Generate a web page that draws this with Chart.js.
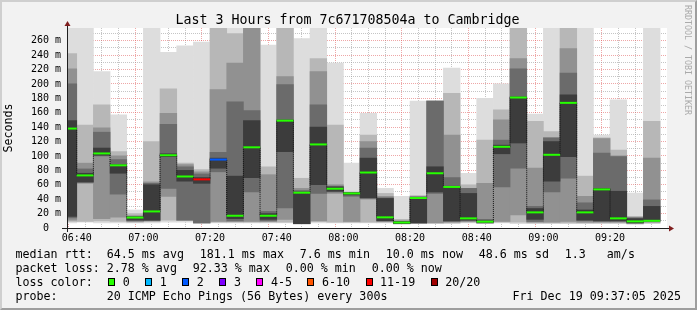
<!DOCTYPE html>
<html>
<head>
<meta charset="utf-8">
<script src="https://cdn.jsdelivr.net/npm/chart.js@4.4.1/dist/chart.umd.min.js"></script>
<style>
  html, body { margin: 0; padding: 0; background: #f2f2f2; }
  #wrap { position: relative; width: 697px; height: 310px; overflow: hidden; background: #f2f2f2;
    font-family: 'DejaVu Sans Mono', monospace; color: #000; }
  #frame { position: absolute; left: 0; top: 0; width: 697px; height: 310px; box-sizing: border-box;
    border-style: solid; border-width: 2px; border-color: #cfcfcf #9e9e9e #9e9e9e #cfcfcf; pointer-events: none; }
  #smoke { position: absolute; left: 0; top: 0; }
  .t { position: absolute; white-space: pre; font-size: 11.66px; line-height: 14px; }
  .row { position: absolute; left: 15.5px; display: flex; column-gap: 15.8px; white-space: pre;
    font-size: 11.66px; line-height: 14px; }
  #title { position: absolute; left: 0; top: 11.5px; width: 695px; text-align: center;
    font-size: 13.3px; line-height: 16px; white-space: pre; }
  #brand { position: absolute; left: 683px; top: 5px; writing-mode: vertical-rl; font-size: 8.3px;
    color: #aaaaaa; white-space: pre; }
  #losskey { position: absolute; left: 108.3px; top: 275px; display: flex; align-items: center;
    font-size: 11.66px; line-height: 14px; white-space: pre; }
  #losskey .box { width: 7px; height: 8px; box-sizing: border-box; border: 1px solid #000; margin-right: 7.5px; }
  #losskey .lab { margin-right: 15.5px; }
</style>
</head>
<body>
<div id="wrap">
  <canvas id="smoke" width="697" height="310"></canvas>
  <div id="title">Last 3 Hours from 7c671708504a to Cambridge</div>
  <div id="brand">RRDTOOL / TOBI OETIKER</div>

  <div class="row" style="top:247.3px">
    <span>median rtt:  64.5 ms avg</span><span>181.1 ms max</span><span>7.6 ms min</span><span>10.0 ms now</span><span>48.6 ms sd</span><span>1.3   am/s</span>
  </div>
  <div class="row" style="top:261.3px">
    <span>packet loss: 2.78 % avg</span><span>92.33 % max</span><span>0.00 % min</span><span>0.00 % now</span>
  </div>

  <div class="t" style="left:15.5px; top:275.3px">loss color:</div>
  <div id="losskey"></div>

  <div class="t" style="left:15.5px; top:289px">probe:       20 ICMP Echo Pings (56 Bytes) every 300s</div>
  <div class="t" style="left:512.5px; top:289px">Fri Dec 19 09:37:05 2025</div>

  <div id="frame"></div>
</div>
<script>
// 5 minute rrd steps, labelled by the end of each step
const slotEnd = [
  '06:40', '06:45', '06:50', '06:55', '07:00', '07:05', '07:10', '07:15', '07:20',
  '07:25', '07:30', '07:35', '07:40', '07:45', '07:50', '07:55', '08:00', '08:05',
  '08:10', '08:15', '08:20', '08:25', '08:30', '08:35', '08:40', '08:45', '08:50',
  '08:55', '09:00', '09:05', '09:10', '09:15', '09:20', '09:25', '09:30', '09:35'
];

// median rtt per step, ms
const median = [
  138, 73, 103.5, 87, 14.5, 23, 101, 71.5, 67.5, 95, 17, 112,
  17, 149, 49, 116, 54.5, 48, 77, 14.8, 7.6, 41.6, 76, 57,
  13.4, 8.8, 112.7, 181.1, 21.7, 101.6, 173.7, 21.7, 53.6, 13.4, 9.2, 10.0
];

// index into lossLabels for each step
const lossBucket = [
  0, 0, 0, 0, 0, 0, 0, 0, 6, 2, 0, 0,
  0, 0, 0, 0, 0, 0, 0, 0, 0, 0, 0, 0,
  0, 0, 0, 0, 0, 0, 0, 0, 0, 0, 0, 0
];

// smoke: ranges of the sorted 20 pings, ms (outer pair lightest)
const pings01_20 = [
  [7, 290], [8, 290], [7, 217], [7, 157], [7, 25], [7, 290], [8, 244], [8, 253], [7, 258],
  [7, 290], [7, 290], [7, 290], [7, 254], [7, 290], [5, 263], [7, 290], [7, 229], [7, 90],
  [7, 159], [7, 55], [5, 44], [6, 176], [6, 176], [6, 222], [7, 76], [6, 180], [7, 200],
  [6, 290], [6, 158], [6, 290], [6, 290], [6, 290], [6, 129], [6, 178], [5, 48.5], [6, 290]
];
const pings03_18 = [
  [9, 242], [9, 143], [10, 171], [9, 106], [8, 20], [9, 120], [11, 193], [11, 90], [7, 81],
  [8, 290], [8, 270], [8, 290], [8, 85], [8, 290], [6, 69], [9, 235], [8, 143], [8, 50],
  [8, 129], [8, 48], [6, 12], [7, 45], [7, 176], [7, 187], [8, 60], [7, 122], [8, 164],
  [8, 290], [7, 148], [7, 134], [7, 290], [7, 72], [7, 125], [7, 108], [6, 16], [7, 148]
];
const pings05_16 = [
  [11, 221], [62, 90], [13, 139], [15, 100], [9, 17], [10, 64], [44, 159], [11, 88], [7, 78],
  [9, 192], [9, 229], [9, 290], [9, 74], [12, 210], [6, 55], [10, 217], [48, 60], [9, 49],
  [40, 120], [9, 44], [6, 10], [7, 44], [7, 176], [8, 129], [9, 55], [7, 62], [9, 150],
  [18, 235], [8, 83], [8, 125], [9, 249], [8, 44], [8, 124], [8, 100], [7, 15], [8, 97]
];
const pings07_14 = [
  [14, 200], [63, 82], [100, 133], [47, 95], [10, 16], [10, 62], [55, 144], [11, 85], [7, 75],
  [78, 105], [10, 175], [50, 163], [10, 23], [28, 199], [6, 52], [48, 171], [50, 58], [44, 49],
  [41, 111], [10, 42], [6, 9], [7, 43], [48, 176], [9, 70], [10, 55], [7, 12], [57, 122],
  [83, 221], [9, 30], [50, 125], [69, 215], [10, 35], [9, 104], [9, 99], [7, 14], [9, 39]
];
const pings09_12 = [
  [16, 149], [64, 76], [101, 111], [76, 88], [11, 15.5], [11, 60], [99, 103], [65, 80], [62, 70],
  [83, 97], [13, 72], [70, 149], [12, 20], [106, 150], [6, 50], [60, 140], [51, 57], [46, 49],
  [42, 97], [10, 41], [6, 9], [7, 42], [50, 85], [10, 58], [11, 48], [8, 10], [103, 115],
  [118, 182], [12, 27], [65, 120], [99, 185], [11, 25], [10, 55], [10, 51], [7, 13], [10, 30]
];

const lossLabels = ['0', '1', '2', '3', '4-5', '6-10', '11-19', '20/20'];
const lossColors = ['#26ff00', '#00b8ff', '#0059ff', '#7e00ff', '#ff00ff', '#ff5500', '#ff0000', '#a00000'];

const timeLabels = ['06:40', '07:00', '07:20', '07:40', '08:00', '08:20', '08:40', '09:00', '09:20'];
const rttGrid = [0, 10, 20, 30, 40, 50, 60, 70, 80, 90, 100, 110, 120, 130, 140,
  150, 160, 170, 180, 190, 200, 210, 220, 230, 240, 250, 260, 270];

const FONT = 'DejaVu Sans Mono';
const MGRID = 'rgba(222, 79, 79, 0.5)';
const GRID = 'rgba(150, 150, 150, 0.55)';
const SHADES = ['#dddddd', '#b7b7b7', '#919191', '#6b6b6b', '#3c3c3c'];

function toMin(s) {
  const [h, m] = s.split(':').map(Number);
  return h * 60 + m;
}

// graph window: 06:37:05 .. 09:37:05
const xStart = toMin('06:37') + 5 / 60;
const xEnd = toMin('09:37') + 5 / 60;
const stepMid = slotEnd.map(s => toMin(s) - 2.5);

const key = document.getElementById('losskey');
lossLabels.forEach((lab, i) => {
  const box = document.createElement('span');
  box.className = 'box';
  box.style.background = lossColors[i];
  const txt = document.createElement('span');
  txt.className = 'lab';
  txt.textContent = lab;
  key.appendChild(box);
  key.appendChild(txt);
});

const smokeSets = [pings01_20, pings03_18, pings05_16, pings07_14, pings09_12].map((ranges, i) => ({
  type: 'bar',
  data: ranges.map((r, j) => ({ x: stepMid[j], y: r })),
  backgroundColor: SHADES[i],
  borderWidth: 0,
  barPercentage: 1,
  categoryPercentage: 1,
  grouped: false,
  order: 10 - i
}));

const medianSet = {
  type: 'line',
  data: median.map((v, j) => ({ x: stepMid[j], y: v })),
  stepped: 'middle',
  borderColor: '#111111',
  borderWidth: 1,
  borderDash: [1, 1],
  pointStyle: 'line',
  pointRadius: 8.4,
  pointBorderWidth: 2,
  pointBorderColor: lossBucket.map(b => lossColors[b]),
  pointBackgroundColor: lossBucket.map(b => lossColors[b]),
  order: 0
};

const rrdFrame = {
  id: 'rrdFrame',
  beforeDraw(chart) {
    const { ctx, chartArea: a } = chart;
    ctx.save();
    ctx.fillStyle = '#ffffff';
    ctx.fillRect(a.left, a.top, a.right - a.left, a.bottom - a.top);
    ctx.restore();
  },
  afterDraw(chart) {
    const { ctx, chartArea: a } = chart;
    const x0 = Math.round(a.left) + 0.5;
    const y0 = Math.round(a.bottom) + 0.5;
    ctx.save();
    ctx.strokeStyle = '#1f1f1f';
    ctx.lineWidth = 1;
    ctx.beginPath();
    ctx.moveTo(a.left - 5, y0);
    ctx.lineTo(a.right + 3, y0);
    ctx.moveTo(x0, a.bottom + 4);
    ctx.lineTo(x0, a.top - 3);
    ctx.stroke();
    // arrows
    ctx.fillStyle = '#801f1f';
    ctx.beginPath();
    ctx.moveTo(x0, a.top - 7);
    ctx.lineTo(x0 - 3, a.top - 2);
    ctx.lineTo(x0 + 3, a.top - 2);
    ctx.closePath();
    ctx.fill();
    ctx.beginPath();
    ctx.moveTo(a.right + 7, y0);
    ctx.lineTo(a.right + 2, y0 - 3);
    ctx.lineTo(a.right + 2, y0 + 3);
    ctx.closePath();
    ctx.fill();
    ctx.restore();
  }
};

// eslint-disable-next-line no-new
new Chart(document.getElementById('smoke'), {
  type: 'bar',
  data: { datasets: [...smokeSets, medianSet] },
  plugins: [rrdFrame],
  options: {
    responsive: false,
    animation: false,
    devicePixelRatio: 1,
    events: [],
    layout: { padding: { top: 28, right: 30, left: 0, bottom: 0 } },
    plugins: { legend: { display: false }, tooltip: { enabled: false }, title: { display: false } },
    scales: {
      x: {
        type: 'linear',
        min: xStart,
        max: xEnd,
        offset: false,
        afterBuildTicks: s => { s.ticks = slotEnd.map(t => ({ value: toMin(t) })); },
        afterFit: s => { s.height = 82; },
        ticks: {
          autoSkip: false,
          maxRotation: 0,
          padding: 4,
          color: '#000',
          font: { family: FONT, size: 10 },
          callback: v => timeLabels.find(t => toMin(t) === v) || ''
        },
        grid: {
          drawTicks: false,
          lineWidth: 1,
          color: c => (c.tick && c.tick.value % 20 === 0 ? MGRID : GRID)
        },
        border: { display: false, dash: [1, 1] }
      },
      y: {
        type: 'linear',
        min: 0,
        max: 277.6,
        afterBuildTicks: s => { s.ticks = rttGrid.map(v => ({ value: v })); },
        afterFit: s => { s.width = 67; },
        ticks: {
          autoSkip: false,
          padding: 6,
          color: '#000',
          font: { family: FONT, size: 10 },
          callback: v => (v === 0 ? '0  ' : v % 20 === 0 ? v + ' m' : '')
        },
        grid: {
          drawTicks: false,
          lineWidth: 1,
          color: c => (c.tick && c.tick.value % 20 === 0 ? MGRID : GRID)
        },
        border: { display: false, dash: [1, 1] },
        title: {
          display: true,
          text: 'Seconds',
          color: '#000',
          font: { family: FONT, size: 11.66 },
          padding: { top: 2, bottom: 0 }
        }
      }
    }
  }
});
</script>
</body>
</html>
